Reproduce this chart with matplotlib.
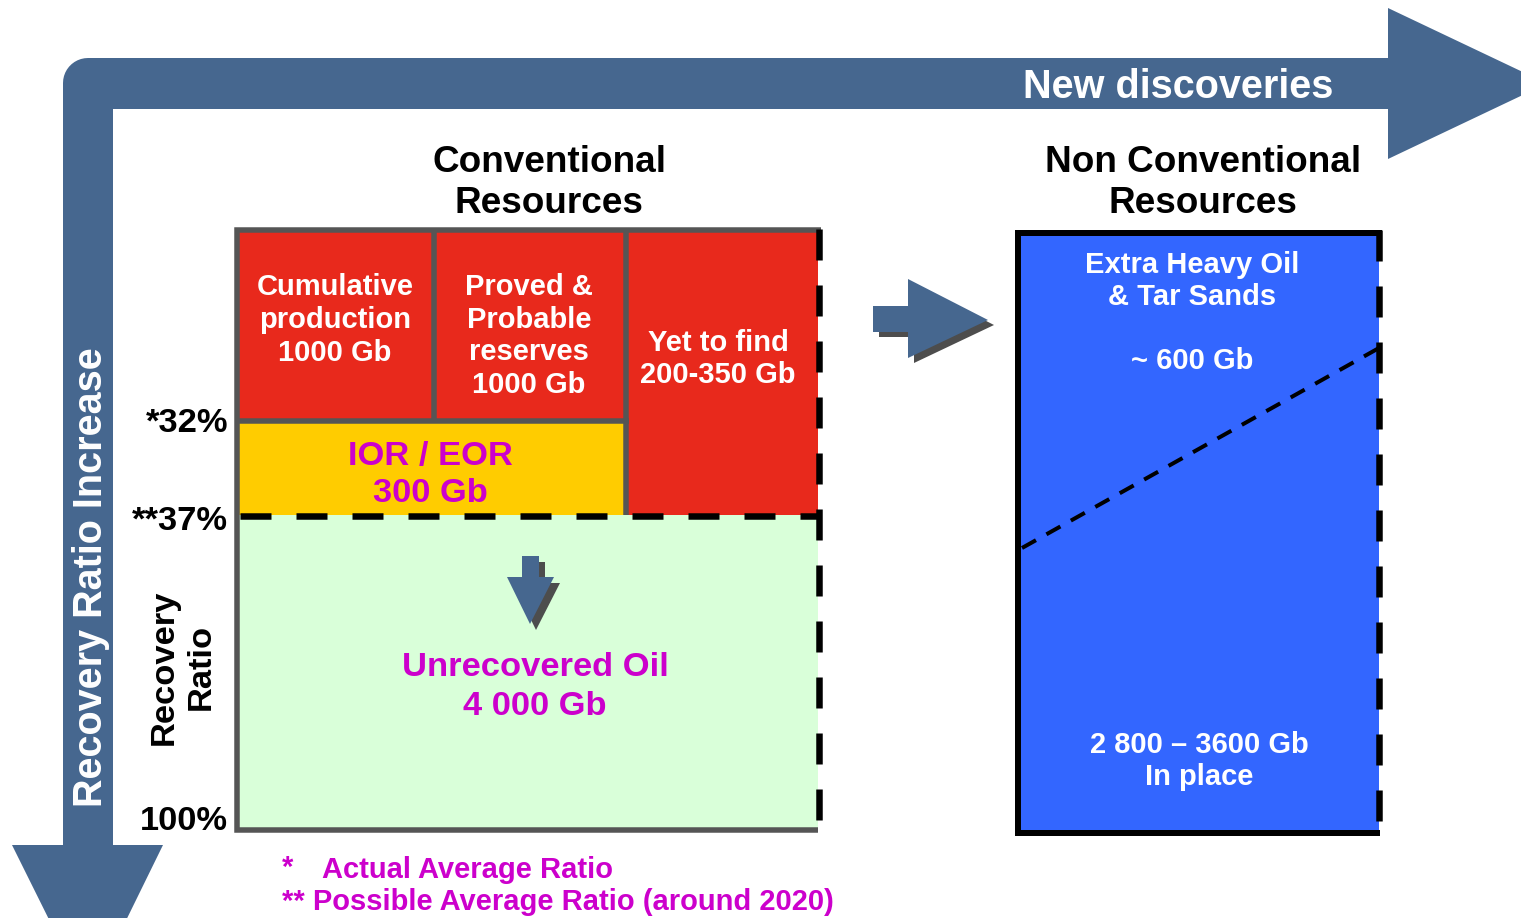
import numpy as np
import matplotlib
matplotlib.use("Agg")
import matplotlib.pyplot as plt
from matplotlib.patches import Polygon, Rectangle

# ---- content -------------------------------------------------------------
flow_labels = ["New discoveries", "Recovery Ratio Increase"]
group_titles = ["Conventional\nResources", "Non Conventional\nResources"]

conv_names = ["Cumulative\nproduction", "Proved &\nProbable\nreserves", "Yet to find",
              "IOR / EOR", "Unrecovered Oil"]
conv_volumes = ["1000 Gb", "1000 Gb", "200-350 Gb", "300 Gb", "4 000 Gb"]

nonconv_names = ["Extra Heavy Oil\n& Tar Sands", "In place"]
nonconv_volumes = ["~ 600 Gb", "2 800 \u2013 3600 Gb"]

ratio_ticks = ["*32%", "**37%", "100%"]
ratio_axis_label = "Recovery\nRatio"
footnote_marks = ["*", "**"]
footnote_texts = ["Actual Average Ratio", "Possible Average Ratio (around 2020)"]

# ---- styling -------------------------------------------------------------
plt.rcParams['font.family'] = ['Liberation Sans', 'DejaVu Sans']
plt.rcParams['lines.scale_dashes'] = False

ARROW = "#46678F"
SHADOW = "#4D4D4D"
RED = "#E8291C"
YELLOW = "#FFCC00"
GREEN = "#D9FFD9"
BLUE = "#3366FF"
MAGENTA = "#CC00CC"
FRAME = "#555555"

W, H = 1521, 918
PT = 72 / 100  # points per pixel at 100 dpi

fig = plt.figure(figsize=(W / 100, H / 100), dpi=100)
ax = fig.add_axes([0, 0, 1, 1])
ax.set_xlim(0, W)
ax.set_ylim(H, 0)
ax.axis('off')


def txt(x, y, s, size, color="black", ha="center", va="center", rot=0, z=10, ls=1.22):
    ax.text(x, y, s, fontsize=size, color=color, ha=ha, va=va, rotation=rot,
            fontweight="bold", linespacing=ls, zorder=z, multialignment="center")


def hline(x0, x1, y, color, lw, dashed=False, z=5, dash=(31, 25)):
    ln, = ax.plot([x0, x1], [y, y], color=color, lw=lw * PT, zorder=z,
                  solid_capstyle="butt", dash_capstyle="butt")
    if dashed:
        ln.set_dashes((dash[0] * PT, dash[1] * PT))


def vline(x, y0, y1, color, lw, dashed=False, z=5, dash=(31, 25)):
    ln, = ax.plot([x, x], [y0, y1], color=color, lw=lw * PT, zorder=z,
                  solid_capstyle="butt", dash_capstyle="butt")
    if dashed:
        ln.set_dashes((dash[0] * PT, dash[1] * PT))


# ---- L-shaped flow arrow -------------------------------------------------
t = np.linspace(np.pi / 2, 0, 12)
arc = np.column_stack([88 - 25 * np.cos(t), 83 - 25 * np.sin(t)])
verts = [(63, 845), (12, 845), (88, 998), (163, 845), (113, 845), (113, 109),
         (1388, 109), (1388, 159), (1547, 83.5), (1388, 8), (1388, 58), (88, 58)]
verts = np.vstack([verts, arc])
ax.add_patch(Polygon(verts, closed=True, facecolor=ARROW, edgecolor="none", zorder=1))
txt(1178, 87, flow_labels[0], 28.5, color="white")
txt(91, 577, flow_labels[1], 28.5, color="white", rot=90)

# ---- conventional block --------------------------------------------------
ax.add_patch(Rectangle((238, 231), 580, 284, facecolor=RED, edgecolor="none", zorder=2))
ax.add_patch(Rectangle((238, 421), 388, 94, facecolor=YELLOW, edgecolor="none", zorder=2))
ax.add_patch(Rectangle((238, 515), 580, 315, facecolor=GREEN, edgecolor="none", zorder=2))

vline(434, 231, 421, FRAME, 5.5)
vline(626, 231, 515, FRAME, 5.5)
hline(238, 629, 421, FRAME, 5.5)
ax.plot([821, 237, 237, 818], [229.5, 229.5, 830, 830], color=FRAME, lw=5.5 * PT,
        zorder=6, solid_joinstyle="miter", solid_capstyle="butt")
hline(240, 818, 515.5, "black", 6.5, dashed=True, z=7)
vline(818.5, 229, 833, "black", 6.5, dashed=True, z=7)

txt(335, 320, conv_names[0] + "\n" + conv_volumes[0], 21, "white")
txt(529, 336, conv_names[1] + "\n" + conv_volumes[1], 21, "white")
txt(718, 359, conv_names[2] + "\n" + conv_volumes[2], 21, "white")
txt(430, 475, conv_names[3] + "\n" + conv_volumes[3], 24.8, MAGENTA, ls=1.26)
txt(535, 687, conv_names[4] + "\n" + conv_volumes[4], 24.8, MAGENTA, ls=1.3)
txt(549, 183, group_titles[0], 26.6, ls=1.2)

# ratio scale on the left of the block
for lbl, y in zip(ratio_ticks, [423, 521, 821]):
    txt(228, y, lbl, 24.8, ha="right")
txt(183, 667, ratio_axis_label, 24.8, rot=90, ls=1.24)

# down arrow inside the unrecovered zone
down = np.array([(522, 556), (539, 556), (539, 577), (554, 577), (530, 624),
                 (507, 577), (522, 577)])
ax.add_patch(Polygon(down + [6, 6], closed=True, facecolor=SHADOW, edgecolor="none", zorder=8))
ax.add_patch(Polygon(down, closed=True, facecolor=ARROW, edgecolor="none", zorder=9))

# ---- arrow towards non conventional --------------------------------------
right = np.array([(873, 306), (908, 306), (908, 279), (988, 320), (908, 358),
                  (908, 332), (873, 332)])
ax.add_patch(Polygon(right + [6, 5], closed=True, facecolor=SHADOW, edgecolor="none", zorder=8))
ax.add_patch(Polygon(right, closed=True, facecolor=ARROW, edgecolor="none", zorder=9))

# ---- non conventional block ----------------------------------------------
ax.add_patch(Rectangle((1018, 233), 361, 599, facecolor=BLUE, edgecolor="none", zorder=2))
ax.plot([1382, 1018, 1018, 1380], [233, 233, 832.5, 832.5], color="black", lw=6 * PT,
        zorder=6, solid_joinstyle="miter", solid_capstyle="butt")
vline(1379, 230, 835, "black", 6.5, dashed=True, z=7)
ln, = ax.plot([1022, 1379], [548, 348], color="black", lw=4 * PT, zorder=7,
              dash_capstyle="butt")
ln.set_dashes((16 * PT, 12 * PT))

txt(1192, 281, nonconv_names[0], 21, "white")
txt(1192, 361, nonconv_volumes[0], 21, "white")
txt(1199, 761, nonconv_volumes[1] + "\n" + nonconv_names[1], 21, "white")
txt(1203, 183, group_titles[1], 26.6, ls=1.2)

# ---- footnotes -----------------------------------------------------------
txt(282, 868, footnote_marks[0], 21, MAGENTA, ha="left")
txt(322, 870, footnote_texts[0], 21, MAGENTA, ha="left")
txt(282, 902, footnote_marks[1] + " " + footnote_texts[1], 21, MAGENTA, ha="left")

fig.savefig("out.png", dpi=100)
